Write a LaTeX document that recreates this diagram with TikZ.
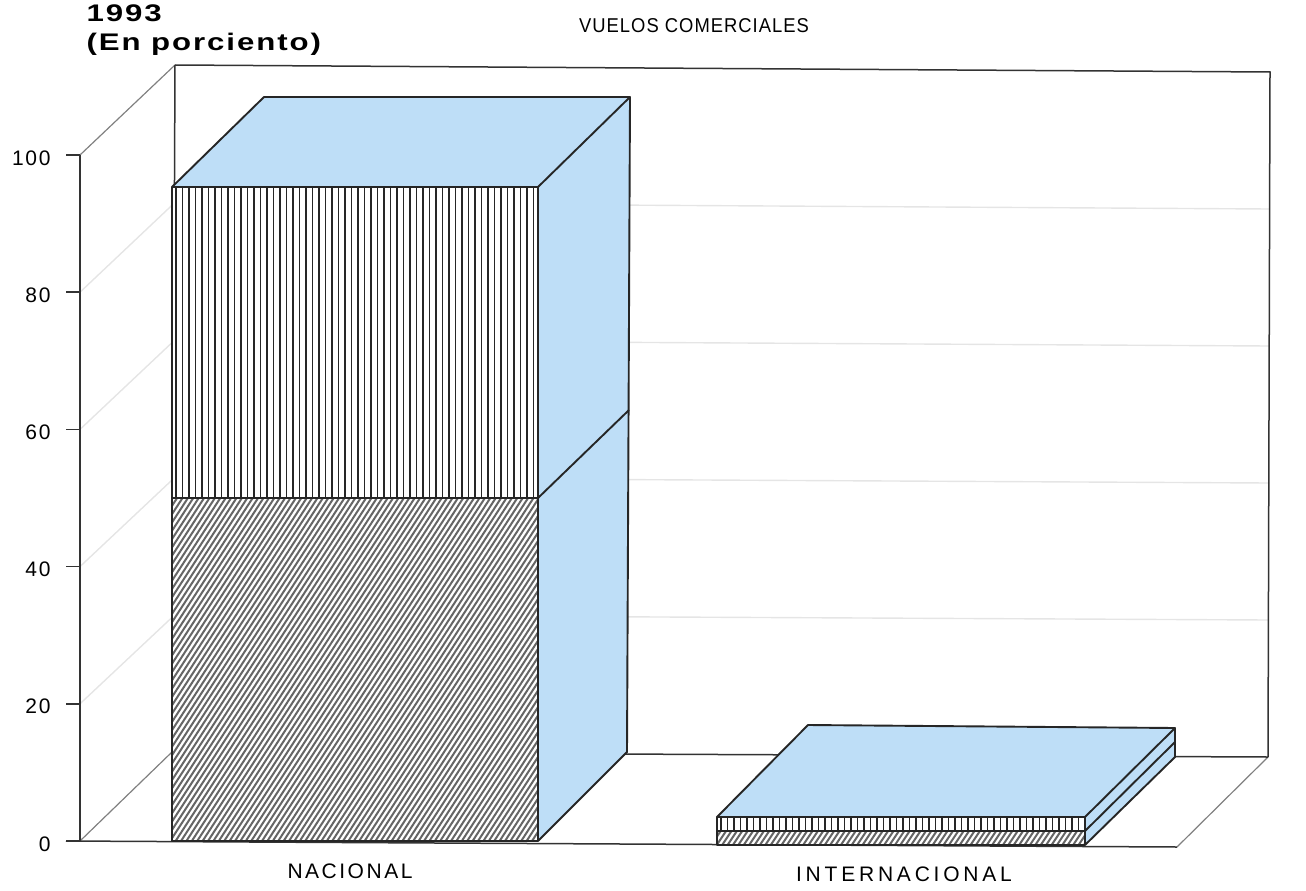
\documentclass[tikz,border=0pt]{standalone}
\usepackage{fontspec}
\setmainfont{Liberation Sans}
\definecolor{barblue}{RGB}{190,222,247}
\begin{document}
\begin{tikzpicture}[x=1pt,y=-1pt,
  frame/.style={line width=1.5pt, draw=black!80},
  wall/.style={line width=1.2pt, draw=black!50},
  gridl/.style={line width=1.4pt, draw=black!10},
  edge/.style={line width=1.9pt, draw=black!85, line join=round},
  hatchd/.style={line width=2pt, draw=black!60},
  hatchv/.style={line width=1.5pt, draw=black!85},
  ylab/.style={anchor=base east, font=\fontsize{21}{24}\selectfont\addfontfeature{LetterSpace=8}},
  catlab/.style={anchor=base, font=\fontsize{21}{24}\selectfont},
  titlab/.style={anchor=base west, font=\fontsize{24}{28}\selectfont\bfseries\addfontfeature{FakeStretch=1.3,LetterSpace=8}}
]
\useasboundingbox (0,0) rectangle (1306,891);

% frame coordinates
\coordinate (A0) at (80,841);
\coordinate (A100) at (80,155);
\coordinate (B100) at (175,65);
\coordinate (B0) at (172,752);
\coordinate (C100) at (1270,72);
\coordinate (C0) at (1268,757);
\coordinate (D0) at (1177,847);
\coordinate (T0) at (66,841);

% faint grid lines
\foreach \p in {20,40,60,80}{
  \draw[gridl] (80,{841-6.86*\p}) -- (175,{752-6.87*\p}) -- (1269,{757-6.85*\p});
}

% frame
\draw[wall] (A0) -- (B0);
\draw[wall] (A100) -- (B100);
\draw[wall] (C0) -- (D0);
\draw[frame] (B0) -- (C0);
\draw[frame] (B100) -- (C100) -- (C0);
\draw[frame] (B100) -- (B0);
\draw[frame] (A0) -- (A100);
\draw[frame] (T0) -- (D0);
\foreach \p/\l in {0/0,20/20,40/40,60/60,80/80,100/100}{
  \coordinate (tk\p) at (66,{841-6.86*\p});
  \coordinate (ta\p) at (80,{841-6.86*\p});
  \draw[frame] (tk\p) -- (ta\p);
  \node[ylab] (yl\p) at (54,{851-6.86*\p}) {\l};
}

% ---------- NACIONAL bar ----------
\coordinate (n1) at (172,841);
\coordinate (n2) at (538,841);
\coordinate (nm1) at (172,498);
\coordinate (nm2) at (538,498);
\coordinate (nt1) at (172,187);
\coordinate (nt2) at (538,187);
\coordinate (nb2) at (630,97);
\coordinate (nb1) at (264,97);
\coordinate (nbm) at (629,410);
\coordinate (nbb) at (627,752);
% side face
\fill[barblue] (n2) -- (nt2) -- (nb2) -- (nbb) -- cycle;
% top face
\fill[barblue] (nt1) -- (nt2) -- (nb2) -- (nb1) -- cycle;
% front face hatches
\fill[white] (n1) rectangle (nt2);
\begin{scope}
  \clip (n1) rectangle (nm2);
  \foreach \x in {-70,-64.6,...,545}{ \draw[hatchd] (\x,845) -- ++(232,-357); }
\end{scope}
\begin{scope}
  \clip (nm1) rectangle (nt2);
  \foreach \x in {176,182.5,...,536}{ \draw[hatchv] (\x,498) -- (\x,187); }
\end{scope}
\draw[edge] (n1) -- (n2) -- (nt2) -- (nt1) -- cycle;
\draw[edge] (nm1) -- (nm2);
\draw[edge] (nt1) -- (nb1) -- (nb2) -- (nt2);
\draw[edge] (nb2) -- (nbb) -- (n2);
\draw[edge] (nm2) -- (nbm);

% ---------- INTERNACIONAL bar ----------
\coordinate (i1) at (717,845);
\coordinate (i2) at (1085,845);
\coordinate (im1) at (717,831);
\coordinate (im2) at (1085,831);
\coordinate (it1) at (717,817);
\coordinate (it2) at (1085,817);
\coordinate (ib1) at (808,725);
\coordinate (ib2) at (1175,728);
\coordinate (ibm) at (1175,742);
\coordinate (ibb) at (1175,757);
\fill[barblue] (i2) -- (it2) -- (ib2) -- (ibb) -- cycle;
\fill[barblue] (it1) -- (it2) -- (ib2) -- (ib1) -- cycle;
\fill[white] (i1) rectangle (it2);
\begin{scope}
  \clip (i1) rectangle (im2);
  \foreach \x in {710,715.4,...,1090}{ \draw[hatchd] (\x,847) -- ++(12,-18); }
\end{scope}
\begin{scope}
  \clip (im1) rectangle (it2);
  \foreach \x in {721,727.5,...,1083}{ \draw[hatchv] (\x,831) -- (\x,817); }
\end{scope}
\draw[edge] (i1) -- (i2) -- (it2) -- (it1) -- cycle;
\draw[edge] (im1) -- (im2);
\draw[edge] (it1) -- (ib1) -- (ib2) -- (it2);
\draw[edge] (ib2) -- (ibb) -- (i2);
\draw[edge] (im2) -- (ibm);

% ---------- texts ----------
\node[titlab] (t1993) at (83,22) {1993};
\node[titlab] (tpct) at (83,51) {(En porciento)};
\node[anchor=base, font=\fontsize{20}{24}\selectfont\addfontfeature{FakeStretch=0.92,LetterSpace=5}] (ttl) at (694,33) {VUELOS COMERCIALES};
\node[catlab, font=\fontsize{21}{24}\selectfont\addfontfeature{LetterSpace=12}] (lnac) at (350,878) {NACIONAL};
\node[catlab, font=\fontsize{21}{24}\selectfont\addfontfeature{LetterSpace=18}] (lint) at (904,881) {INTERNACIONAL};
\end{tikzpicture}
\end{document}
